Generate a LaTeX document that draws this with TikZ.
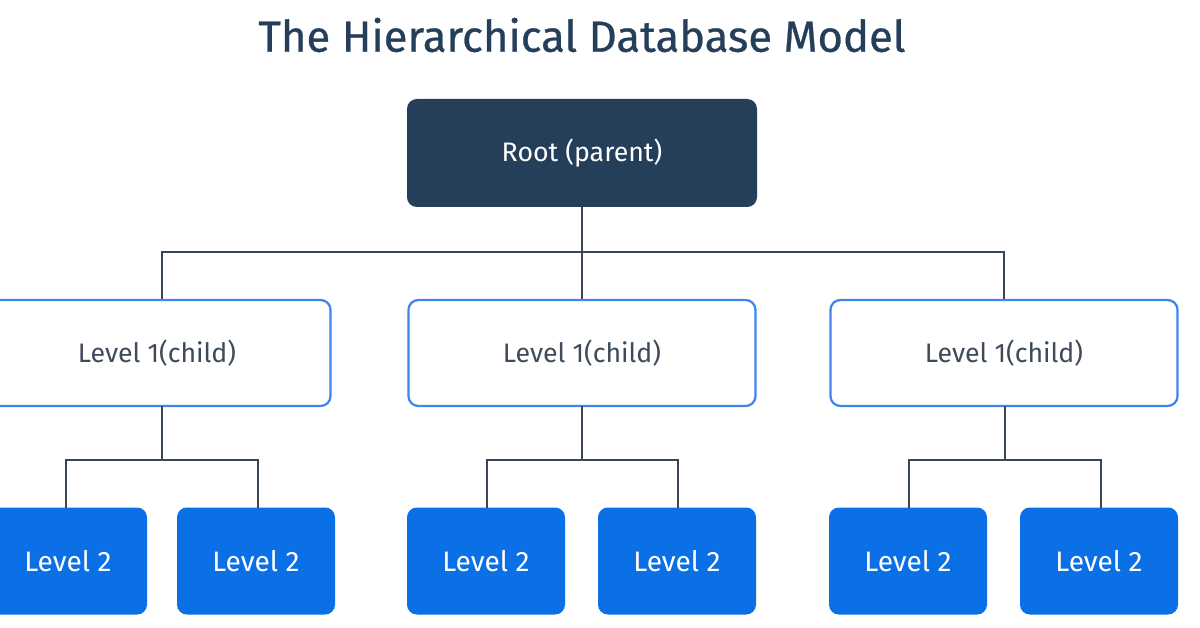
\documentclass[tikz,border=0pt]{standalone}
\usepackage{fontspec}
\setmainfont{Fira Sans}
\definecolor{navy}{HTML}{253E5A}
\definecolor{bl}{HTML}{0B6FE6}
\definecolor{bord}{HTML}{3C86EC}
\definecolor{txt}{HTML}{3F4B5A}
\definecolor{ln}{HTML}{3A4756}
\begin{document}
\begin{tikzpicture}[x=0.025cm,y=-0.025cm,
 root/.style={draw=none,fill=navy,rounded corners=7pt,text=white,font=\fontsize{19}{22}\selectfont},
 l1/.style={draw=bord,line width=1.6pt,fill=white,rounded corners=7pt,text=txt,font=\fontsize{19}{22}\selectfont},
 l2/.style={draw=none,fill=bl,rounded corners=7pt,text=white,font=\fontsize{20}{24}\selectfont},
 con/.style={draw=ln,line width=1.6pt}]
\useasboundingbox (0,0) rectangle (1200,628);
\begin{scope}
\clip (0,0) rectangle (1200,628);
\node[text=navy,font=\fontsize{31}{36}\selectfont\addfontfeatures{FakeBold=0.6}] (title) at (582,35) {The Hierarchical Database Model};
\node[root,minimum width=350*0.025cm,minimum height=108*0.025cm] (r) at (582,153) {Root (parent)};
\foreach \n/\x in {a/157,b/582,c/1004}{
 \node[l1,minimum width=347*0.025cm,minimum height=106*0.025cm] (\n) at (\x,353) {Level 1(child)};}
\node[l1,draw=none,fill=none] at (157,353) {};
\foreach \n/\x in {a1/68,a2/256,b1/486,b2/677,c1/908,c2/1099}{
 \node[l2,minimum width=158*0.025cm,minimum height=107*0.025cm] (\n) at (\x,561) {Level 2};}
\coordinate (j0) at (582,252);
\draw[con] (r.south) -- (j0);
\draw[con] (a.north -| 162,0) |- (j0) -| (c.north);
\draw[con] (j0) -- (b.north);
\foreach \p/\u/\v/\xa/\xb/\xc in {a/a1/a2/162/66/258,b/b1/b2/582/487/678,c/c1/c2/1005/909/1101}{
 \coordinate (m\p) at (\xc,460);
 \draw[con] (\xa,406) -- (\xa,460);
 \draw[con] (\xb,508) |- (\xc,460) -- (\xc,508);
}
\end{scope}
\end{tikzpicture}
\end{document}
